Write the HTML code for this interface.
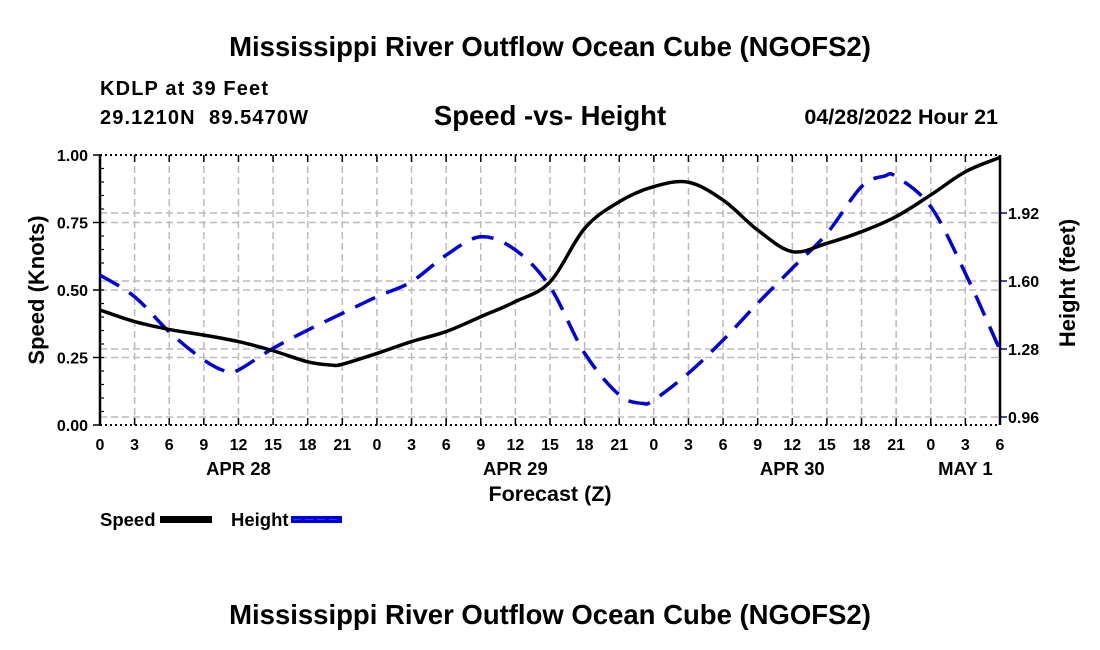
<!DOCTYPE html>
<html><head><meta charset="utf-8"><style>
body{margin:0;background:#fff;}
svg{display:block;font-family:"Liberation Sans",Arial,sans-serif;font-weight:bold;}
text{white-space:pre;}
</style></head><body>
<svg id="chart" width="1100" height="650">
<text x="550" y="56" text-anchor="middle" font-size="27.5">Mississippi River Outflow Ocean Cube (NGOFS2)</text>
<text x="100" y="95" font-size="20" textLength="168">KDLP at 39 Feet</text>
<text x="100" y="124" font-size="20" textLength="208" xml:space="preserve">29.1210N  89.5470W</text>
<text x="550" y="125" text-anchor="middle" font-size="27.5">Speed -vs- Height</text>
<text x="998" y="124" text-anchor="end" font-size="21.5">04/28/2022 Hour 21</text>
<g id="grid"></g>
<g id="axes"></g>
<g id="series"></g>
<text x="0" y="0" transform="translate(44,290) rotate(-90)" text-anchor="middle" font-size="22">Speed (Knots)</text>
<text x="0" y="0" transform="translate(1075,283) rotate(-90)" text-anchor="middle" font-size="22">Height (feet)</text>
<text x="550" y="501" text-anchor="middle" font-size="21.5">Forecast (Z)</text>
<g>
<text x="100" y="526" font-size="18.5">Speed</text>
<rect x="160" y="516" width="52" height="7" fill="#000"></rect>
<text x="231" y="526" font-size="18.5">Height</text>
<rect x="291" y="516" width="51" height="7" fill="#0000dd"></rect>
<line x1="293" y1="519.5" x2="340" y2="519.5" stroke="#3333ff" stroke-width="1" stroke-dasharray="8,4"></line>
</g>
<text x="550" y="624" text-anchor="middle" font-size="27.5">Mississippi River Outflow Ocean Cube (NGOFS2)</text>
</svg>
<script>
const tickLabels=["0","3","6","9","12","15","18","21","0","3","6","9","12","15","18","21","0","3","6","9","12","15","18","21","0","3","6"];
const dateLabels=["APR 28","APR 29","APR 30","MAY 1"];
const dateHours=[12,36,60,75];
const speedTicks=[0,0.25,0.5,0.75,1.0];
const heightTicks=[0.96,1.28,1.60,1.92];
const speedHours=[0,3,6,9,12,15,18,20,21,24,27,30,33,36,39,42,45,48,51,54,57,60,63,66,69,72,75,78];
const speedValues=[0.426,0.383,0.354,0.333,0.309,0.275,0.234,0.222,0.225,0.265,0.309,0.346,0.401,0.457,0.53,0.728,0.827,0.883,0.899,0.833,0.722,0.642,0.673,0.716,0.772,0.852,0.938,0.991];
const heightHours=[0,3,6,9,11,12,15,18,21,24,27,30,33,36,39,42,45,47,48,51,54,57,60,63,66,68,69,72,75,78];
const heightValues=[1.628,1.526,1.361,1.228,1.173,1.181,1.283,1.369,1.448,1.526,1.597,1.722,1.808,1.746,1.573,1.26,1.064,1.024,1.04,1.166,1.322,1.495,1.66,1.824,2.044,2.094,2.091,1.95,1.636,1.275];

const X0=100,X1=1000,Y0=425,Y1=155,HMAX=78;
const xs=h=>X0+(X1-X0)*h/HMAX;
const ys=v=>Y0-(Y0-Y1)*v;
const yh=v=>417-(v-0.96)*(68/0.32);
const NS="http://www.w3.org/2000/svg";
function mk(tag,attrs,parent){const e=document.createElementNS(NS,tag);for(const k in attrs)e.setAttribute(k,attrs[k]);parent.appendChild(e);return e;}
const grid=document.getElementById('grid'),axes=document.getElementById('axes'),series=document.getElementById('series');
tickLabels.forEach((t,i)=>{const x=xs(i*3);
 if(i>0&&i<tickLabels.length-1){const g=mk('line',{x1:x,y1:Y1,x2:x,y2:Y0,stroke:'#bbb','stroke-width':1.5,'stroke-dasharray':'7,4'},grid);
 
 }
 mk('line',{x1:x,y1:Y1,x2:x,y2:Y1+7,stroke:'#000','stroke-width':1.5},axes);
 mk('line',{x1:x,y1:Y0,x2:x,y2:Y0-7,stroke:'#000','stroke-width':1.5},axes);
 const tx=mk('text',{x:x,y:450,'text-anchor':'middle','font-size':16},axes);tx.textContent=t;
 
 
});
dateLabels.forEach((d,i)=>{const tx=mk('text',{x:xs(dateHours[i]),y:475,'text-anchor':'middle','font-size':18.5},axes);tx.textContent=d;
 
 });
speedTicks.forEach(v=>{const y=ys(v);
 if(v>0&&v<1){const g=mk('line',{x1:X0,y1:y,x2:X1,y2:y,stroke:'#bbb','stroke-width':1.5,'stroke-dasharray':'7,4'},grid);
 
 }
 mk('line',{x1:X0-7,y1:y,x2:X0,y2:y,stroke:'#000','stroke-width':1.5},axes);
 const tx=mk('text',{x:X0-12,y:y+6,'text-anchor':'end','font-size':16},axes);tx.textContent=v.toFixed(2);
 
 });
for(let v=0.05;v<1;v+=0.05){mk('line',{x1:X0,y1:ys(v),x2:X0+4,y2:ys(v),stroke:'#000','stroke-width':1.2},axes);}
heightTicks.forEach(v=>{const y=yh(v);
 const g=mk('line',{x1:X0,y1:y,x2:X1,y2:y,stroke:'#bbb','stroke-width':1.5,'stroke-dasharray':'7,4'},grid);
 
 
 mk('line',{x1:X1,y1:y,x2:X1+7,y2:y,stroke:'#0000cc','stroke-width':1.5},axes);
 const tx=mk('text',{x:X1+8,y:y+6,'font-size':16},axes);tx.textContent=v.toFixed(2);
 
 });
mk('line',{x1:X0,y1:Y1,x2:X1,y2:Y1,stroke:'#000','stroke-width':2,'stroke-dasharray':'2,3'},axes);
mk('line',{x1:X0,y1:Y0,x2:X1,y2:Y0,stroke:'#000','stroke-width':2,'stroke-dasharray':'2,3'},axes);
mk('line',{x1:X0,y1:Y1,x2:X0,y2:Y0,stroke:'#000','stroke-width':2.5},axes);
mk('line',{x1:X1,y1:Y1,x2:X1,y2:Y0,stroke:'#000','stroke-width':2.5},axes);
function smooth(pts){let d=`M${pts[0][0]},${pts[0][1]}`;
 for(let i=0;i<pts.length-1;i++){const p0=pts[i-1]||pts[i],p1=pts[i],p2=pts[i+1],p3=pts[i+2]||p2;
 const c1=[p1[0]+(p2[0]-p0[0])/6,p1[1]+(p2[1]-p0[1])/6],c2=[p2[0]-(p3[0]-p1[0])/6,p2[1]-(p3[1]-p1[1])/6];
 d+=`C${c1[0]},${c1[1]} ${c2[0]},${c2[1]} ${p2[0]},${p2[1]}`;}return d;}
const hp=mk('path',{d:smooth(heightHours.map((h,i)=>[xs(h),yh(heightValues[i])])),fill:'none',stroke:'#0000dd','stroke-width':3.5,'stroke-dasharray':'22,12'},series);


const sp=mk('path',{d:smooth(speedHours.map((h,i)=>[xs(h),ys(speedValues[i])])),fill:'none',stroke:'#000','stroke-width':3.5},series);


</script>
</body></html>
